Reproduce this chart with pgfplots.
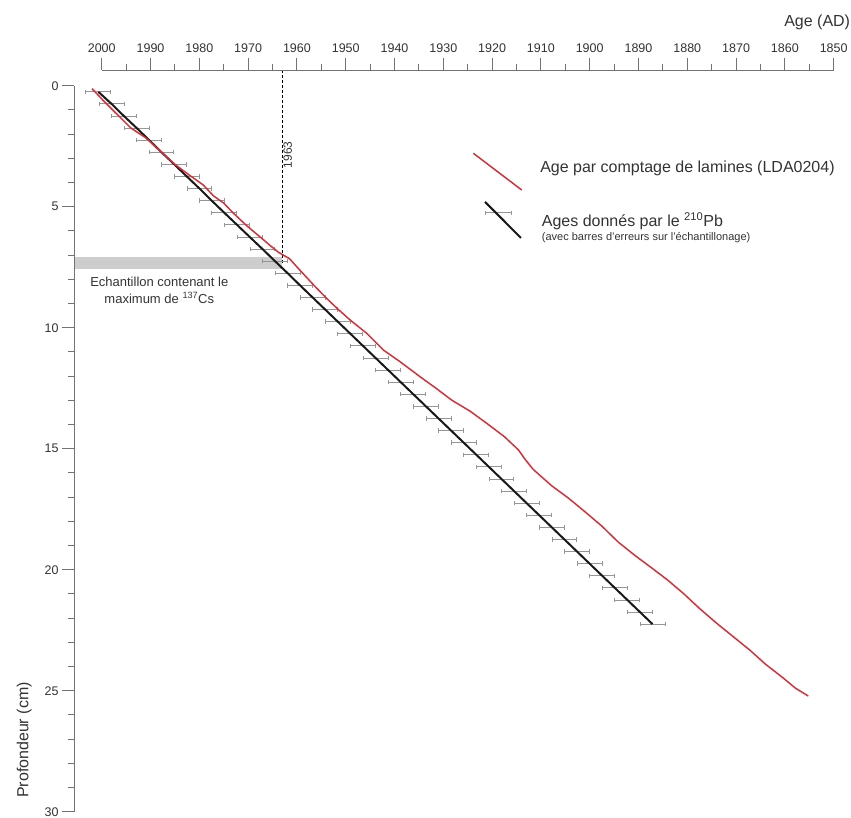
\documentclass[border=0pt]{standalone}
\usepackage{fontspec}
\setmainfont{Liberation Sans}
\usepackage{pgfplots}
\usepackage{pgfplotstable}
\usetikzlibrary{arrows.meta}
\pgfplotsset{compat=1.18}
\definecolor{redline}{RGB}{210,50,60}
\definecolor{axisgrey}{RGB}{115,115,115}
\definecolor{txt}{RGB}{51,51,51}
\definecolor{errgrey}{RGB}{150,150,150}
\definecolor{bandgrey}{RGB}{205,205,205}

\pgfplotstableread{
year depth
2002.0 0.12
1999.5 0.65
1997.0 1.15
1994.0 1.75
1991.0 2.15
1988.0 2.70
1985.0 3.25
1982.0 3.70
1979.2 4.10
1977.1 4.55
1975.0 4.85
1973.0 5.27
1970.2 5.80
1967.6 6.24
1965.5 6.60
1963.8 6.88
1961.5 7.15
1959.4 7.62
1956.5 8.25
1953.9 8.79
1951.5 9.25
1949.1 9.68
1945.7 10.23
1942.3 10.92
1938.9 11.40
1934.8 12.02
1931.5 12.50
1928.3 12.99
1924.5 13.45
1921.1 13.95
1917.5 14.50
1914.6 15.05
1913.2 15.45
1911.6 15.85
1907.8 16.53
1904.3 17.05
1901.0 17.60
1897.5 18.20
1894.2 18.85
1890.8 19.40
1887.6 19.88
1884.2 20.40
1880.8 20.98
1877.5 21.60
1874.0 22.21
1870.5 22.78
1867.2 23.32
1864.0 23.90
1860.5 24.45
1857.8 24.90
1855.2 25.22
}\redtable

\pgfplotstableread{
year depth err
2000.70 0.25 2.55
1997.99 0.75 2.55
1995.47 1.25 2.55
1992.83 1.75 2.55
1990.27 2.25 2.55
1987.75 2.75 2.55
1985.12 3.25 2.55
1982.56 3.75 2.55
1979.96 4.25 2.55
1977.46 4.75 2.55
1974.88 5.25 2.55
1972.27 5.75 2.55
1969.67 6.25 2.55
1967.05 6.75 2.55
1964.49 7.25 2.55
1961.89 7.75 2.55
1959.36 8.25 2.55
1956.78 8.75 2.55
1954.20 9.25 2.55
1951.62 9.75 2.55
1949.04 10.25 2.55
1946.46 10.75 2.55
1943.88 11.25 2.55
1941.30 11.75 2.55
1938.72 12.25 2.55
1936.14 12.75 2.55
1933.56 13.25 2.55
1930.98 13.75 2.55
1928.40 14.25 2.55
1925.82 14.75 2.55
1923.24 15.25 2.55
1920.66 15.75 2.55
1918.08 16.25 2.55
1915.50 16.75 2.55
1912.92 17.25 2.55
1910.34 17.75 2.55
1907.76 18.25 2.55
1905.18 18.75 2.55
1902.60 19.25 2.55
1900.02 19.75 2.55
1897.44 20.25 2.55
1894.86 20.75 2.55
1892.28 21.25 2.55
1889.70 21.75 2.55
1887.12 22.25 2.55
}\pbtable

\begin{document}
\begin{tikzpicture}
\begin{axis}[
  at={(0,0)}, anchor=south west,
  scale only axis, width=759.7pt, height=741.7pt,
  xmin=1850, xmax=2005.68, ymin=-0.649, ymax=30,
  x dir=reverse, y dir=reverse,
  axis x line*=top, axis y line*=left,
  axis line style={draw=none},
  clip=false,
  xtick={1850,1860,...,2000}, ytick={0,5,...,30},
  minor x tick num=1, minor y tick num=4,
  tick align=outside,
  major tick length=12pt, minor tick length=6pt,
  tick style={axisgrey, line width=0.9pt},
  /pgf/number format/assume math mode=true,
  xticklabel style={font=\fontsize{12.5}{14}\selectfont, text=txt, yshift=2pt, /pgf/number format/1000 sep={}},
  yticklabel style={font=\fontsize{12.5}{14}\selectfont, text=txt},
]
% grey band (sample with 137Cs maximum)
\addplot[draw=none, fill=bandgrey] coordinates {(2005.68,7.08) (1963,7.08) (1963,7.58) (2005.68,7.58)} -- cycle;
% 1963 dashed line
\addplot[black, line width=1.3pt, dash pattern=on 3pt off 2pt] coordinates {(1963,-0.649) (1963,7.4)};
% error bars
\addplot[draw=none, mark=none, error bars/.cd, x dir=both, x explicit,
  error mark=|,
  error bar style={errgrey, line width=0.9pt},
  error mark options={errgrey, line width=0.9pt, mark size=2.2pt}]
  table[x=year, y=depth, x error=err] {\pbtable};
% 210Pb line
\addplot[black!90, line width=2pt] table[x=year, y=depth] {\pbtable};
% varve counting
\addplot[redline, line width=1.5pt] table[x=year, y=depth] {\redtable};

% axis lines
\draw[axisgrey, line width=0.9pt] (axis cs:2000,-0.649) -- (axis cs:1850,-0.649);
\draw[axisgrey, line width=0.9pt] (axis cs:2005.68,0) -- (axis cs:2005.68,30);

% texts
\node[anchor=base east, inner sep=0, font=\fontsize{16}{19}\selectfont, text=txt] at (axis cs:1846.6,-2.44) {Age (AD)};
\node[rotate=90, inner sep=0, font=\fontsize{16}{19}\selectfont, text=txt] at (axis cs:2015.9,27.04) {Profondeur (cm)};
\node[rotate=90, inner sep=0, font=\fontsize{12}{14}\selectfont, text=txt] at (axis cs:1961.9,2.86) {1963};
\node[anchor=base, inner sep=0, font=\fontsize{13}{15}\selectfont, text=txt] at (axis cs:1988.2,8.31) {Echantillon contenant le};
\node[anchor=base, inner sep=0, font=\fontsize{13}{15}\selectfont, text=txt] at (axis cs:1988.2,8.99) {maximum de \textsuperscript{137}Cs};

% legend
\draw[redline, line width=1.5pt] (axis cs:1923.85,2.79) -- (axis cs:1913.93,4.31);
\node[anchor=west, inner sep=0, font=\fontsize{16}{19}\selectfont, text=txt] at (axis cs:1910.17,3.40) {Age par comptage de lamines (LDA0204)};
\draw[errgrey, line width=0.9pt, {Bar[width=4.4pt]}-{Bar[width=4.4pt]}] (axis cs:1921.46,5.25) -- (axis cs:1915.98,5.25);
\draw[black!90, line width=2pt] (axis cs:1921.46,4.80) -- (axis cs:1914.08,6.29);
\node[anchor=base west, inner sep=0, font=\fontsize{16}{19}\selectfont, text=txt] at (axis cs:1909.84,5.83) {Ages donnés par le \textsuperscript{210}Pb};
\node[anchor=base west, inner sep=0, font=\fontsize{11}{13}\selectfont, text=txt] at (axis cs:1909.84,6.38) {(avec barres d'erreurs sur l'échantillonage)};
\end{axis}
\pgfresetboundingbox
\useasboundingbox (-74pt,-5.3pt) rectangle (777pt,811.7pt);
\end{tikzpicture}
\end{document}
